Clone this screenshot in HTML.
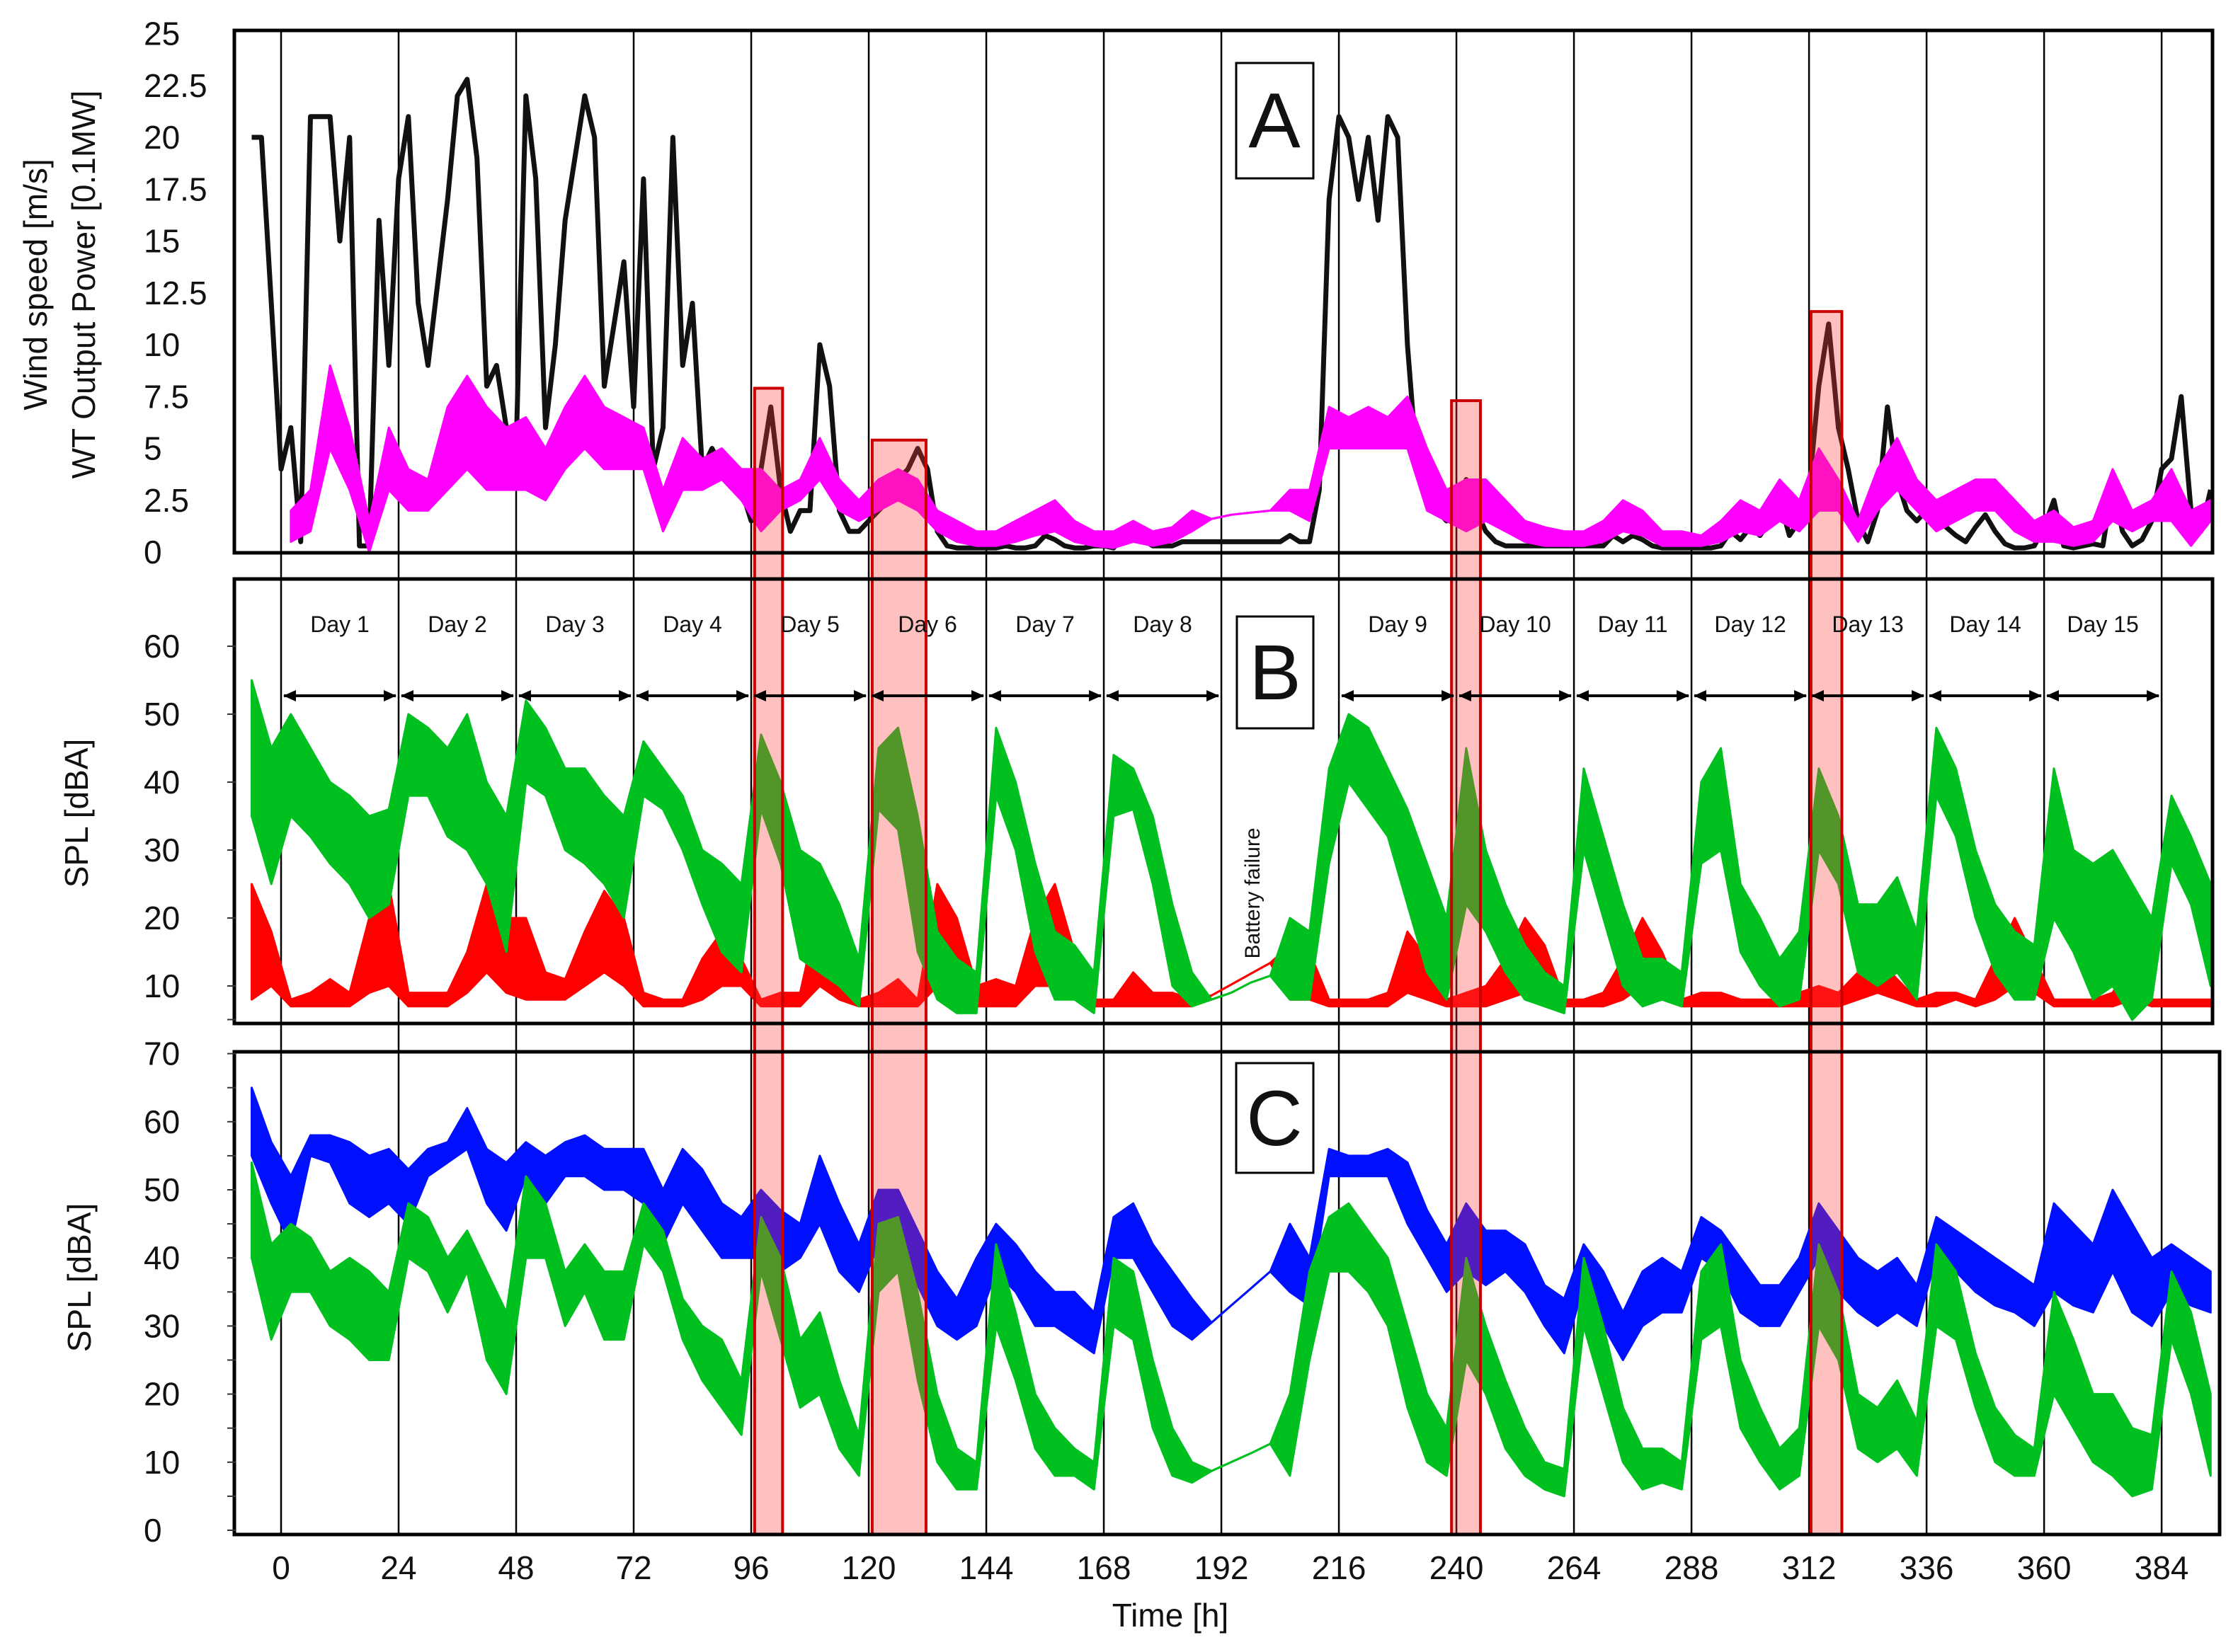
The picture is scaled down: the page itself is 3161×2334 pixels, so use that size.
<!DOCTYPE html>
<html><head><meta charset="utf-8"><style>
html,body{margin:0;padding:0;background:#fff}
svg{display:block}
text{font-family:"Liberation Sans",Arial,sans-serif;fill:#111}
</style></head><body>
<svg id="chart" xmlns="http://www.w3.org/2000/svg" width="3161" height="2334" viewBox="0 0 3161 2334">
<defs>
<clipPath id="clipA"><rect x="333" y="45" width="2790" height="734"/></clipPath>
<clipPath id="clipB"><rect x="333" y="820" width="2790" height="624"/></clipPath>
<clipPath id="clipC"><rect x="333" y="1488" width="2800" height="680"/></clipPath>
<marker id="arrS" markerWidth="18" markerHeight="18" refX="17" refY="9" orient="auto-start-reverse" markerUnits="userSpaceOnUse" viewBox="0 0 18 18"><path d="M0,1 L18,9 L0,17 Z" fill="#000"/></marker>
</defs>
<g id="layer"></g>
</svg>
<script>
// ---------- data ----------
const hourTicks = [0,24,48,72,96,120,144,168,192,216,240,264,288,312,336,360,384];
const yTicksA = ["25","22.5","20","17.5","15","12.5","10","7.5","5","2.5","0"];
const yTickValsA = [25,22.5,20,17.5,15,12.5,10,7.5,5,2.5,0];
const yTicksB = [60,50,40,30,20,10];
const yTicksC = [70,60,50,40,30,20,10,0];
const dayLabels = ["Day 1","Day 2","Day 3","Day 4","Day 5","Day 6","Day 7","Day 8","Day 9","Day 10","Day 11","Day 12","Day 13","Day 14","Day 15"];
const dayStarts = [0,24,48,72,96,120,144,168,216,240,264,288,312,336,360];
// highlight bands [start h, end h, top value in panel A units]
const bandStart = [96.7,120.7,239.0,312.4];
const bandEnd = [102.4,131.7,244.9,318.7];
const bandTop = [7.9,5.4,7.3,11.6];

// Panel A: wind speed (black), 2 h step starting at -6 h
const windStart = -6, windStep = 2;
const windSpeed = [
20,20,12,4,6,0.5,21,21,21,15,
20,0.3,0.3,16,9,18,21,12,9,13,
17,22,22.8,19,8,9,6,5,22,18,
6,10,16,19,22,20,8,11,14,7,
18,4,6,20,9,12,4,5,4,4,
3,1.5,4,7,3,1,2,2,10,8,
2,1,1,1.5,2,2.5,3.5,4,5,4,
1,0.3,0.2,0.2,0.2,0.2,0.2,0.3,0.2,0.2,
0.3,0.8,0.6,0.3,0.2,0.2,0.3,0.3,0.2,0.8,
1,0.6,0.3,0.3,0.3,0.5,0.5,0.5,0.5,0.5,
0.5,0.5,0.5,0.5,0.5,0.5,0.8,0.5,0.5,3,
17,21,20,17,20,16,21,20,10,4,
3,2,1.5,2,3.5,2,1,0.5,0.3,0.3,
0.3,0.3,0.3,0.3,0.3,0.3,0.3,0.3,0.3,0.8,
0.5,0.8,0.6,0.3,0.2,0.2,0.2,0.2,0.2,0.2,
0.3,1,0.6,1.2,0.8,1.5,2.5,0.8,1.5,3,
8,11,6,4,1.5,0.5,2,7,3.5,2,
1.5,2,2,1.2,0.8,0.5,1.2,1.8,1,0.4,
0.2,0.2,0.3,1.2,2.5,0.3,0.2,0.3,0.4,0.3,
3.3,1,0.3,0.6,1.5,4,4.5,7.5,2,1,
3];

// Panel A: WT output power (magenta) envelope, 4 h step from 2 h
const powStart = 2, powStep = 4;
const powerLo = [
.5,1,5,3,0,3,2,2,3,4,
3,3,3,2.5,4,5,4,4,4,1,
3,3,3.5,2.5,1,2,2.5,3.5,2,1.5,
2,2.5,2,1,.5,.3,.3,.5,.8,1,
.5,.3,.2,.5,.3,.5,1,1.6,1.8,1.9,
2,2,1.5,5,5,5,5,5,2,1.5,
1,1.5,1,.5,.3,.3,.3,.5,1,.8,
.3,.3,.3,.5,1,.8,1.5,1,2,2,
.5,2,3,2,1,1.5,2,2,1,.5,
.5,.3,.5,1.5,1,1.5,1.5,.3,1.5];
const powerHi = [
2,3,9,6,1.5,6,4,3.5,7,8.5,
7,6,6.5,5,7,8.5,7,6.5,6,3,
5.5,4.5,5,4,4,3,3.5,5.5,3.5,2.5,
3.5,4,3.5,2,1.5,1,1,1.5,2,2.5,
1.5,1,1,1.5,1,1.2,2,1.6,1.8,1.9,
2,3,3,7,6.5,7,6.5,7.5,5,3,
3.5,3.5,2.5,1.5,1.2,1,1,1.5,2.5,2,
1,1,.8,1.5,2.5,2,3.5,2.5,5,3.5,
1.5,4,5.5,3.5,2.5,3,3.5,3.5,2.5,1.5,
2,1.2,1.5,4,2,2.5,4,2,2.5];

// Panels B and C: 4 h step from -6 h
const splStart = -6, splStep = 4;
const bGreenLo = [35,25,35,32,28,25,20,22,38,38, 32,30,25,15,40,38,30,28,25,20, 38,36,30,22,15,12,36,28,14,12, 10,7,36,33,15,8,6,6,38,30, 15,8,8,6,35,36,25,10,7,8, 9,10.5,11.5,8,8,28,40,36,32,22, 12,8,22,18,12,8,7,6,30,20, 10,7,8,7,28,30,15,10,7,8, 30,25,12,10,12,8,38,32,20,12, 8,8,20,15,8,10,5,8,28,22, 10];
const bGreenHi = [55,45,50,45,40,38,35,36,50,48, 45,50,40,35,52,48,42,42,38,35, 46,42,38,30,28,25,47,40,30,28, 22,14,45,48,35,18,14,12,48,40, 28,18,16,12,44,42,35,22,12,8, 9,10.5,11.5,20,18,42,50,48,42,36, 28,20,45,30,22,16,12,10,42,32, 22,14,14,12,40,45,25,20,14,18, 42,35,22,22,26,18,48,42,30,22, 18,16,42,30,28,30,25,20,38,32, 25];
const bRedLo = [8,10,7,7,7,7,9,10,7,7, 7,9,12,9,8,8,8,10,12,10, 7,7,7,8,10,10,7,7,7,10, 8,7,7,7,7,10,10,7,7,7, 10,10,8,7,7,7,7,7,7,8.6, 10.2,11.8,13.4,8,8,7,7,7,7,9, 8,7,7,7,8,9,8,7,7,7, 8,10,8,7,7,7,7,7,7,7, 7,7,8,9,8,7,7,8,7,8, 10,9,7,7,7,7,8,7,7,7, 7];
const bRedHi = [25,18,8,9,11,9,20,25,9,9, 9,15,25,20,20,12,11,18,24,20, 9,8,8,14,18,14,8,9,9,22, 14,8,9,11,8,25,20,10,11,10, 20,25,15,8,8,12,9,9,8,8.6, 10.2,11.8,13.4,16,15,8,8,8,9,18, 14,8,9,10,14,20,16,8,8,9, 14,20,15,8,9,9,8,8,8,9, 10,9,12,14,11,8,9,9,8,14, 20,14,8,8,8,9,14,8,8,8, 8];
const cBlueLo = [55,48,42,55,54,48,46,48,45,52, 54,56,48,44,52,48,52,52,50,50, 48,42,48,44,40,40,40,38,40,45, 38,35,42,40,36,30,28,30,38,35, 30,30,28,26,40,40,35,30,28,30.5, 33,35.5,38,35,33,52,52,52,52,45, 40,35,38,36,38,35,30,26,36,30, 25,30,32,32,40,38,32,30,30,35, 40,35,32,30,32,30,40,38,35,33, 32,30,35,33,32,38,32,30,35,33, 32];
const cBlueHi = [65,57,52,58,58,57,55,56,53,56, 57,62,56,54,57,55,57,58,56,56, 56,50,56,53,48,46,50,47,45,55, 48,42,50,50,44,38,34,40,45,42, 38,35,35,32,46,48,42,38,34,30.5, 33,35.5,38,45,40,56,55,55,56,54, 47,42,48,44,44,42,36,34,42,38, 32,38,40,38,46,44,40,36,36,40, 48,44,40,38,40,36,46,44,42,40, 38,36,48,45,42,50,45,40,42,40, 38];
const cGreenLo = [40,28,35,35,30,28,25,25,40,38, 32,38,25,20,40,40,30,35,28,28, 42,38,28,22,18,14,38,28,18,20, 12,8,35,38,22,10,6,6,30,22, 12,8,8,6,30,28,15,8,7,8.7, 10,11.3,12.7,8,25,38,38,35,30,18, 10,8,25,20,12,8,6,5,30,20, 10,6,7,6,28,30,15,10,6,8, 30,25,12,10,12,8,30,28,18,10, 8,8,20,15,10,8,5,6,28,20, 8];
const cGreenHi = [54,42,45,43,38,40,38,35,48,46, 40,44,38,32,52,48,38,42,38,38, 48,44,34,30,28,22,46,40,28,32, 22,14,45,46,35,20,12,10,42,32, 20,15,12,10,40,38,25,15,10,8.7, 10,11.3,12.7,20,38,46,48,44,40,30, 20,15,40,30,22,15,10,9,40,30, 18,12,12,10,38,42,25,18,12,15, 42,35,20,18,22,16,42,38,26,18, 14,12,35,28,20,20,15,14,38,32, 20];

// ---------- scales ----------
const xs = h => 397 + 6.917*h;
const yA = v => 780 - 29.3*v;
const yB = v => 1489 - 9.6*v;
const yC = v => 2162 - 9.62*v;

const NS = "http://www.w3.org/2000/svg";
const layer = document.getElementById('layer');
function mk(tag, attrs, parent){
  const e = document.createElementNS(NS, tag);
  for (const k in attrs) e.setAttribute(k, attrs[k]);
  (parent||layer).appendChild(e);
  return e;
}
function group(name, clip){
  const g = document.createElementNS(NS,'g');
  
  
  if (clip) g.setAttribute('clip-path', 'url(#'+clip+')');
  layer.appendChild(g);
  return g;
}
function linePts(vals, start, step, ys){
  return vals.map((v,i)=> xs(start+i*step).toFixed(1)+','+ys(v).toFixed(1)).join(' ');
}
function envelope(lo, hi, start, step, ys, color, name, clip){
  const g = group(name, clip);
  const up = hi.map((v,i)=> xs(start+i*step).toFixed(1)+','+ys(v).toFixed(1));
  const dn = lo.map((v,i)=> xs(start+i*step).toFixed(1)+','+ys(v).toFixed(1)).reverse();
  const p = mk('polygon', {points: up.concat(dn).join(' '), fill: color, stroke: color, 'stroke-width': 3, 'stroke-linejoin':'round'}, g);
  
  
  const mid = lo.map((v,i)=> xs(start+i*step).toFixed(1)+','+ys((v+hi[i])/2).toFixed(1)).join(' ');
  const l = mk('polyline', {points: mid, fill:'none', stroke: color, 'stroke-width': 3}, g);
  
  
}

// ---------- day vertical lines ----------
const vg = group('day-gridlines');
hourTicks.forEach(h=>{
  const l = mk('line', {x1: xs(h), x2: xs(h), y1: 45, y2: 2168, stroke:'#000', 'stroke-width': 2.5}, vg);
  
  
});

// ---------- Panel A ----------
const wl = mk('polyline', {points: linePts(windSpeed, windStart, windStep, yA), fill:'none', stroke:'#111', 'stroke-width': 7, 'stroke-linejoin':'round', 'clip-path':'url(#clipA)'});


envelope(powerLo, powerHi, powStart, powStep, yA, '#ff00ff', 'wt-power', 'clipA');

// ---------- Panel B ----------
envelope(bRedLo, bRedHi, splStart, splStep, yB, '#ff0000', 'spl-b-red', 'clipB');
envelope(bGreenLo, bGreenHi, splStart, splStep, yB, '#00c020', 'spl-b-green', 'clipB');

// ---------- Panel C ----------
envelope(cBlueLo, cBlueHi, splStart, splStep, yC, '#0010ff', 'spl-c-blue', 'clipC');
envelope(cGreenLo, cGreenHi, splStart, splStep, yC, '#00c020', 'spl-c-green', 'clipC');

// ---------- highlight bands ----------
const hb = group('highlight-bands');
bandStart.forEach((s,i)=>{
  const r = mk('rect', {x: xs(s), y: yA(bandTop[i]), width: xs(bandEnd[i])-xs(s), height: 2168-yA(bandTop[i]), fill:'rgba(255,60,60,0.32)', stroke:'#c80000', 'stroke-width': 4}, hb);
  
  
});

// ---------- frames ----------
const fr = group('panel-frames');
[[331,43,3125,781,'panel-a-frame'],[331,818,3125,1446,'panel-b-frame'],[331,1486,3135,2168,'panel-c-frame']].forEach(f=>{
  const r = mk('rect', {x:f[0], y:f[1], width:f[2]-f[0], height:f[3]-f[1], fill:'none', stroke:'#000', 'stroke-width':5}, fr);
  
  
});

// ---------- y tick labels ----------
const ta = group('y-ticks-a');
yTicksA.forEach((t,i)=>{
  const e = mk('text', {x: 203, y: yA(yTickValsA[i])+16, 'font-size': 46}, ta);
  e.textContent = t;
  
  
});
const tb = group('y-ticks-b');
yTicksB.forEach(t=>{
  const e = mk('text', {x: 203, y: yB(t)+16, 'font-size': 46}, tb);
  e.textContent = t;
  
  
  mk('line', {x1:321, x2:333, y1:yB(t), y2:yB(t), stroke:'#333','stroke-width':2}, tb);
});
const tc = group('y-ticks-c');
yTicksC.forEach(t=>{
  const e = mk('text', {x: 203, y: yC(t)+16, 'font-size': 46}, tc);
  e.textContent = t;
  
  
  mk('line', {x1:321, x2:333, y1:yC(t), y2:yC(t), stroke:'#333','stroke-width':2}, tc);
  mk('line', {x1:321, x2:333, y1:yC(t+5), y2:yC(t+5), stroke:'#333','stroke-width':2}, tc);
});

// ---------- x tick labels ----------
const tx = group('x-ticks');
hourTicks.forEach(h=>{
  const e = mk('text', {x: xs(h), y: 2231, 'font-size': 46, 'text-anchor':'middle'}, tx);
  e.textContent = h;
  
  
});

// ---------- day labels + arrows ----------
const dg = group('day-annotations');
dayStarts.forEach((s,i)=>{
  const e = mk('text', {x: xs(s+12), y: 893, 'font-size': 32, 'text-anchor':'middle'}, dg);
  e.textContent = dayLabels[i];
  
  
  const a = mk('line', {x1: xs(s)+4, x2: xs(s+24)-4, y1: 983, y2: 983, stroke:'#000', 'stroke-width': 4, 'marker-start':'url(#arrS)', 'marker-end':'url(#arrS)'}, dg);
  
  
});
</script>
<!-- static labels -->
<svg style="position:absolute;left:0;top:0" width="3161" height="2334" viewBox="0 0 3161 2334" xmlns="http://www.w3.org/2000/svg">
  <rect x="1746" y="89" width="109" height="163" fill="#fff" stroke="#000" stroke-width="3"/>
  <text x="1800" y="208" font-size="110" text-anchor="middle">A</text>
  <rect x="1747" y="871" width="108" height="158" fill="#fff" stroke="#000" stroke-width="3"/>
  <text x="1801" y="988" font-size="110" text-anchor="middle">B</text>
  <rect x="1746" y="1502" width="109" height="155" fill="#fff" stroke="#000" stroke-width="3"/>
  <text x="1800" y="1618" font-size="110" text-anchor="middle">C</text>
  <text transform="translate(1779,1262) rotate(-90)" font-size="30" text-anchor="middle">Battery failure</text>
  <text transform="translate(66,402) rotate(-90)" font-size="46" text-anchor="middle">Wind speed [m/s]</text>
  <text transform="translate(134,402) rotate(-90)" font-size="46" text-anchor="middle">WT Output Power [0.1MW]</text>
  <text transform="translate(124,1149) rotate(-90)" font-size="46" text-anchor="middle">SPL [dBA]</text>
  <text transform="translate(128,1805) rotate(-90)" font-size="46" text-anchor="middle">SPL [dBA]</text>
  <text x="1653" y="2298" font-size="46" text-anchor="middle">Time [h]</text>
</svg>
</body></html>
